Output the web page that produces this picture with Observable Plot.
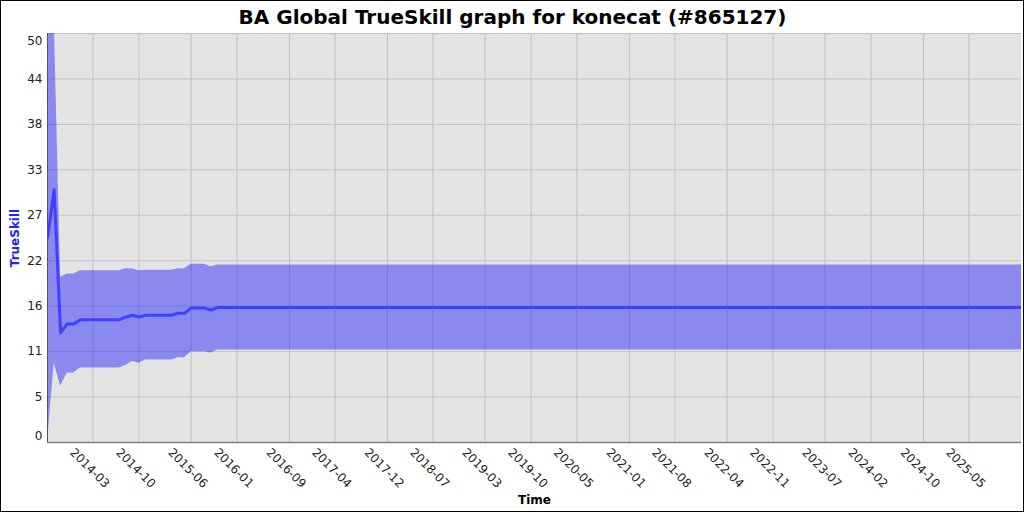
<!DOCTYPE html>
<html>
<head>
<meta charset="utf-8">
<script src="https://cdn.jsdelivr.net/npm/d3@7"></script>
<script src="https://cdn.jsdelivr.net/npm/@observablehq/plot@0.6"></script>
<style>
  html, body { margin: 0; padding: 0; background: #fff; }
  #chart svg { display: block; outline: 1px solid #000; outline-offset: -1px; background: #fff; }
</style>
</head>
<body>
<div id="chart"></div>
<script>
const titleText = "BA Global TrueSkill graph for konecat (#865127)";
const yLabel = "TrueSkill";
const xLabel = "Time";

// monthly snapshots (change points)
const dates = ["2013-08-01","2013-09-01","2013-10-01","2013-11-01","2013-12-01","2014-01-01","2014-07-01","2014-08-01","2014-09-01","2014-10-01","2014-11-01","2015-03-01","2015-04-01","2015-05-01","2015-06-01","2015-08-01","2015-09-01","2015-10-01","2026-01-01"];
const mu    = [25.0, 30.9, 13.4, 14.5, 14.5, 15.0, 15.0, 15.35, 15.55, 15.35, 15.55, 15.55, 15.8, 15.8, 16.45, 16.45, 16.2, 16.5, 16.5];
const lower = [0.0, 9.7, 6.9, 8.5, 8.5, 9.1, 9.1, 9.45, 9.9, 9.7, 10.1, 10.1, 10.35, 10.35, 11.1, 11.1, 10.95, 11.3, 11.3];
const upper = [50.0, 52.1, 20.2, 20.6, 20.6, 21.0, 21.0, 21.25, 21.2, 21.0, 21.05, 21.05, 21.25, 21.25, 21.8, 21.8, 21.5, 21.7, 21.7];

const xTickLabels = ["2014-03","2014-10","2015-06","2016-01","2016-09","2017-04","2017-12","2018-07","2019-03","2019-10","2020-05","2021-01","2021-08","2022-04","2022-11","2023-07","2024-02","2024-10","2025-05"];
const yTickValues = [0, 5.556, 11.111, 16.667, 22.222, 27.778, 33.333, 38.889, 44.444, 50];
const yTickLabels = ["0","5","11","16","22","27","33","38","44","50"];
const xDomain = ["2013-08-01", "2026-01-01"];

const data = dates.map((d, i) => ({date: new Date(d + "T00:00:00Z"), mu: mu[i], lo: lower[i], hi: upper[i]}));
const xTicks = xTickLabels.map(s => new Date(s + "-01T00:00:00Z"));
const yTicks = yTickValues.map((v, i) => ({v, label: yTickLabels[i]}));

const W = 1024, H = 512, mL = 47, mR = 3, mT = 33, mB = 70;
const frameCx = mL + (W - mL - mR) / 2;

const chart = Plot.plot({
  width: W, height: H,
  marginLeft: mL, marginRight: mR, marginTop: mT, marginBottom: mB,
  style: {fontFamily: "DejaVu Sans", fontSize: "12px", color: "#000", background: "#fff"},
  x: {type: "utc", domain: xDomain.map(d => new Date(d + "T00:00:00Z")), axis: null},
  y: {domain: [0, 50], axis: null},
  marks: [
    Plot.frame({fill: "#e4e4e4", stroke: "none"}),
    Plot.gridX(xTicks, {stroke: "#c2c2c2", strokeOpacity: 1, strokeWidth: 1}),
    Plot.gridY(yTickValues, {stroke: "#c2c2c2", strokeOpacity: 1, strokeWidth: 1}),
    Plot.areaY(data, {x: "date", y1: "lo", y2: "hi", fill: "#0000ff", fillOpacity: 0.4, clip: true}),
    Plot.lineY(data, {x: "date", y: "mu", stroke: "#4040ff", strokeWidth: 3, clip: true}),
    Plot.ruleY([0], {stroke: "#808080", strokeWidth: 1.5}),
    Plot.ruleX([new Date(xDomain[0] + "T00:00:00Z")], {stroke: "#555", strokeWidth: 1}),
    // y tick labels
    Plot.text(yTicks.slice(1, -1), {y: "v", text: "label", frameAnchor: "left", textAnchor: "end", lineAnchor: "middle", dx: -5, fontSize: 12, fill: "#222"}),
    Plot.text(yTicks.slice(-1), {y: "v", text: "label", frameAnchor: "left", textAnchor: "end", lineAnchor: "middle", dx: -5, dy: 8, fontSize: 12, fill: "#222"}),
    Plot.text(yTicks.slice(0, 1), {y: "v", text: "label", frameAnchor: "left", textAnchor: "end", lineAnchor: "middle", dx: -5, dy: -6, fontSize: 12, fill: "#222"}),
    // x tick labels
    Plot.text(xTicks, {x: d => d, text: (d, i) => xTickLabels[i], frameAnchor: "bottom", rotate: 45, textAnchor: "start", lineAnchor: "middle", dx: -21, dy: 8, fontSize: 12, fill: "#222"}),
    // axis titles
    Plot.text([yLabel], {frameAnchor: "left", rotate: -90, textAnchor: "middle", lineAnchor: "middle", dx: 15 - mL, fontSize: 12, fontWeight: "bold", fill: "#2626f0"}),
    Plot.text([xLabel], {frameAnchor: "bottom", textAnchor: "middle", lineAnchor: "middle", dy: 57.5, fontSize: 12, fontWeight: "bold", fill: "#000"}),
    // title
    Plot.text([titleText], {frameAnchor: "top", textAnchor: "middle", lineAnchor: "middle", dx: W / 2 - frameCx, dy: -16, fontSize: 20, fontWeight: "bold", fill: "#000"})
  ]
});
document.getElementById("chart").appendChild(chart);
</script>
</body>
</html>
